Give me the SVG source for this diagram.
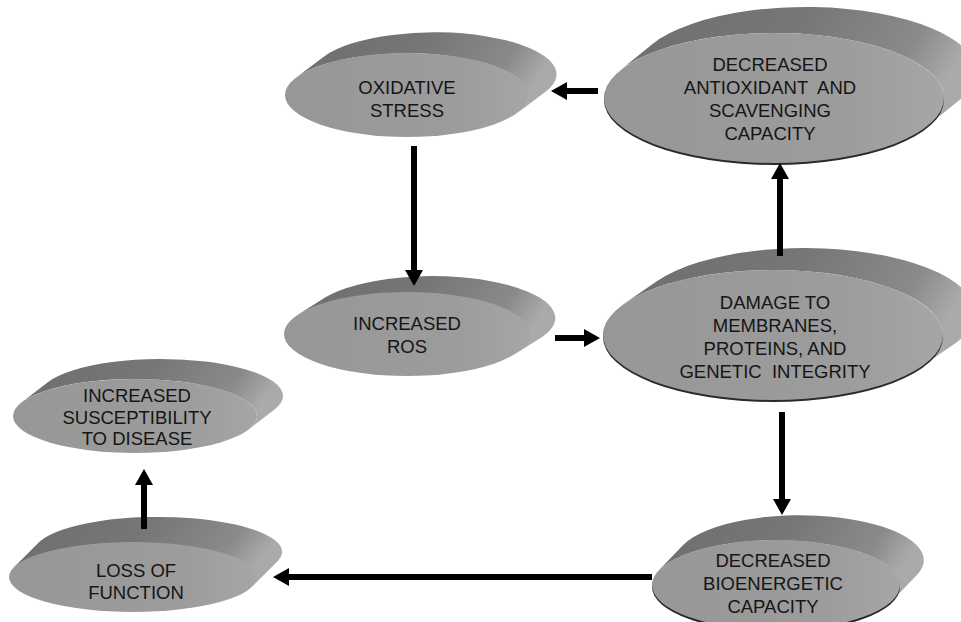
<svg xmlns="http://www.w3.org/2000/svg" width="961" height="622" viewBox="0 0 961 622">
<defs>
<linearGradient id="gBack" x1="0" y1="0" x2="1" y2="0.2">
<stop offset="0" stop-color="#6e6e6e"/>
<stop offset="0.5" stop-color="#767676"/>
<stop offset="0.85" stop-color="#8a8a8a"/>
<stop offset="1" stop-color="#aaaaaa"/>
</linearGradient>
<linearGradient id="gFront" x1="0" y1="0" x2="1" y2="0">
<stop offset="0" stop-color="#979797"/>
<stop offset="0.7" stop-color="#9c9c9c"/>
<stop offset="1" stop-color="#a6a6a6"/>
</linearGradient>
<marker id="ah" viewBox="0 0 16 18" refX="6" refY="9" markerWidth="16" markerHeight="18" markerUnits="userSpaceOnUse" orient="auto">
<path d="M0,0 L16,9 L0,18 z" fill="#000"/>
</marker>
</defs>
<style>
.back{fill:url(#gBack);}
.front{fill:url(#gFront);}
.edge{fill:#2a2a2a;}
.lbl{font-family:"Liberation Sans",Arial,sans-serif;font-size:18.5px;fill:#151515;text-anchor:middle;white-space:pre;}
.conn{stroke:#000;stroke-width:6;fill:none;marker-end:url(#ah);}
</style>
<rect width="961" height="622" fill="#ffffff"/>

<g id="node-oxidative-stress">
<path class="back" d="M296.1,77.5 L324.1,56.5 A122,42 0 0 1 545.9,91.5 L517.9,112.5 A122,42 0 0 0 296.1,77.5 Z"/>
<ellipse class="front" cx="407" cy="95" rx="122" ry="42"/>
<text class="lbl" x="407" y="94">OXIDATIVE</text>
<text class="lbl" x="407" y="117">STRESS</text>
</g>

<g id="node-decreased-antioxidant">
<path class="back" d="M620.2,70.3 L652.2,44.3 A170,65 0 0 1 959.8,99.7 L927.8,125.7 A170,65 0 0 0 620.2,70.3 Z"/>
<ellipse class="edge" cx="774" cy="100" rx="170" ry="65"/>
<ellipse class="front" cx="774" cy="98" rx="170" ry="65"/>
<text class="lbl" x="770" y="71">DECREASED</text>
<text class="lbl" x="770" y="94" xml:space="preserve">ANTIOXIDANT  AND</text>
<text class="lbl" x="770" y="117">SCAVENGING</text>
<text class="lbl" x="770" y="140">CAPACITY</text>
</g>

<g id="node-increased-ros">
<path class="back" d="M298.9,314 L325.9,297 A123,42 0 0 1 542.1,337 L515.1,354 A123,42 0 0 0 298.9,314 Z"/>
<ellipse class="front" cx="407" cy="334" rx="123" ry="42"/>
<text class="lbl" x="407" y="330">INCREASED</text>
<text class="lbl" x="407" y="353">ROS</text>
</g>

<g id="node-damage">
<path class="back" d="M624.4,303.4 L656.4,281.4 A170,65 0 0 1 953.6,344.6 L921.6,366.6 A170,65 0 0 0 624.4,303.4 Z"/>
<ellipse class="edge" cx="773" cy="337" rx="170" ry="65"/>
<ellipse class="front" cx="773" cy="335" rx="170" ry="65"/>
<text class="lbl" x="775" y="309">DAMAGE TO</text>
<text class="lbl" x="775" y="332">MEMBRANES,</text>
<text class="lbl" x="775" y="355">PROTEINS, AND</text>
<text class="lbl" x="775" y="378" xml:space="preserve">GENETIC  INTEGRITY</text>
</g>

<g id="node-decreased-bioenergetic">
<path class="back" d="M658.9,570.2 L682.9,545.2 A124,45 0 0 1 917.1,574.8 L893.1,599.8 A124,45 0 0 0 658.9,570.2 Z"/>
<ellipse class="edge" cx="776" cy="587" rx="124" ry="45"/>
<ellipse class="front" cx="776" cy="585" rx="124" ry="45"/>
<text class="lbl" x="773" y="567">DECREASED</text>
<text class="lbl" x="773" y="590">BIOENERGETIC</text>
<text class="lbl" x="773" y="613">CAPACITY</text>
</g>

<g id="node-loss-of-function">
<path class="back" d="M13.7,567.5 L39.7,541.5 A124,35 0 0 1 278.3,560.5 L252.3,586.5 A124,35 0 0 0 13.7,567.5 Z"/>
<ellipse class="front" cx="133" cy="577" rx="124" ry="35"/>
<text class="lbl" x="136" y="577">LOSS OF</text>
<text class="lbl" x="136" y="599">FUNCTION</text>
</g>

<g id="node-increased-susceptibility">
<path class="back" d="M21.5,402.4 L47.5,382.4 A122,37 0 0 1 274.5,409.6 L248.5,429.6 A122,37 0 0 0 21.5,402.4 Z"/>
<ellipse class="front" cx="135" cy="416" rx="122" ry="37"/>
<text class="lbl" x="137" y="402">INCREASED</text>
<text class="lbl" x="137" y="424">SUSCEPTIBILITY</text>
<text class="lbl" x="137" y="445">TO DISEASE</text>
</g>

<g id="connectors">
<line class="conn" x1="598" y1="91" x2="561" y2="91"/>
<line class="conn" x1="414" y1="146" x2="414" y2="276"/>
<line class="conn" x1="555" y1="338" x2="590" y2="338"/>
<line class="conn" x1="780" y1="256" x2="780" y2="173"/>
<line class="conn" x1="782" y1="412" x2="782" y2="505"/>
<line class="conn" x1="652" y1="577" x2="283" y2="577"/>
<line class="conn" x1="144" y1="529" x2="144" y2="479"/>
</g>
</svg>
